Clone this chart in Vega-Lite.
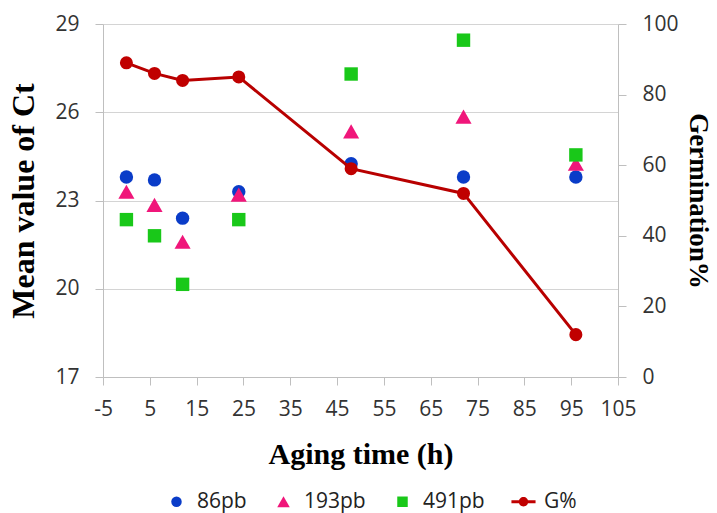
{
  "$schema": "https://vega.github.io/schema/vega-lite/v6.json",
  "width": 515,
  "height": 353,
  "autosize": "none",
  "padding": {"left": 103, "top": 24, "right": 99, "bottom": 136},
  "background": "white",
  "config": {
    "view": {"stroke": null},
    "axis": {
      "labelFont": "Open Sans",
      "labelFontSize": 21,
      "labelColor": "#333333",
      "tickColor": "#bfbfbf",
      "domainColor": "#bfbfbf",
      "tickSize": 8,
      "labelFlush": false,
      "labelOverlap": false,
      "titleFont": "Liberation Serif",
      "titleFontWeight": "bold",
      "titleColor": "#000000"
    }
  },
  "datasets": {
    "ct": [
      {"time": 0, "series": "86pb", "ct": 23.8},
      {"time": 6, "series": "86pb", "ct": 23.7},
      {"time": 12, "series": "86pb", "ct": 22.4},
      {"time": 24, "series": "86pb", "ct": 23.3},
      {"time": 48, "series": "86pb", "ct": 24.25},
      {"time": 72, "series": "86pb", "ct": 23.8},
      {"time": 96, "series": "86pb", "ct": 23.8},
      {"time": 0, "series": "193pb", "ct": 23.3},
      {"time": 6, "series": "193pb", "ct": 22.85},
      {"time": 12, "series": "193pb", "ct": 21.6},
      {"time": 24, "series": "193pb", "ct": 23.2},
      {"time": 48, "series": "193pb", "ct": 25.35},
      {"time": 72, "series": "193pb", "ct": 25.85},
      {"time": 96, "series": "193pb", "ct": 24.25},
      {"time": 0, "series": "491pb", "ct": 22.35},
      {"time": 6, "series": "491pb", "ct": 21.8},
      {"time": 12, "series": "491pb", "ct": 20.15},
      {"time": 24, "series": "491pb", "ct": 22.35},
      {"time": 48, "series": "491pb", "ct": 27.3},
      {"time": 72, "series": "491pb", "ct": 28.45},
      {"time": 96, "series": "491pb", "ct": 24.55}
    ],
    "germ": [
      {"time": 0, "g": 89},
      {"time": 6, "g": 86},
      {"time": 12, "g": 84},
      {"time": 24, "g": 85},
      {"time": 48, "g": 59},
      {"time": 72, "g": 52},
      {"time": 96, "g": 12}
    ]
  },
  "layer": [
    {
      "data": {"name": "ct"},
      "mark": {"type": "point", "filled": true, "opacity": 1, "size": 180, "strokeWidth": 0},
      "encoding": {
        "x": {
          "field": "time", "type": "quantitative",
          "scale": {"domain": [-5, 105], "nice": false, "zero": false},
          "axis": {
            "values": [-5, 5, 15, 25, 35, 45, 55, 65, 75, 85, 95, 105],
            "labelExpr": "datum.value < 0 ? '-' + abs(datum.value) : datum.label",
            "grid": false, "labelPadding": 13,
            "title": "Aging time (h)", "titleFontSize": 30, "titlePadding": 20
          }
        },
        "y": {
          "field": "ct", "type": "quantitative",
          "scale": {"domain": [17, 29], "nice": false, "zero": false},
          "axis": {
            "values": [17, 20, 23, 26, 29],
            "grid": true, "gridColor": "#d4d4d4", "gridWidth": 1,
            "labelPadding": 16,
            "title": "Mean value of Ct", "titleFontSize": 32, "titlePadding": 14
          }
        },
        "color": {
          "field": "series", "type": "nominal",
          "scale": {"domain": ["86pb", "193pb", "491pb", "G%"], "range": ["#0a3cc8", "#f0167a", "#19c819", "#c00000"]},
          "legend": {
            "orient": "none", "legendX": 63, "legendY": 467, "direction": "horizontal",
            "title": null, "symbolSize": 110, "labelFont": "Open Sans", "labelFontSize": 21,
            "labelColor": "#222222", "labelOffset": 10, "columnPadding": 26, "symbolStrokeWidth": 0
          }
        },
        "shape": {
          "field": "series", "type": "nominal",
          "scale": {"domain": ["86pb", "193pb", "491pb", "G%"], "range": ["circle", "M0,-1.05L1.2,1.05L-1.2,1.05Z", "square", "M-2.3,-0.3L2.3,-0.3L2.3,0.3L-2.3,0.3Z M0.9,0 A0.9,0.9 0 1,1 -0.9,0 A0.9,0.9 0 1,1 0.9,0 Z"]},
          "legend": {
            "orient": "none", "legendX": 63, "legendY": 467, "direction": "horizontal",
            "title": null, "symbolSize": 110, "labelFont": "Open Sans", "labelFontSize": 21,
            "labelColor": "#222222", "labelOffset": 10, "columnPadding": 26, "symbolStrokeWidth": 0
          }
        }
      }
    },
    {
      "data": {"name": "germ"},
      "encoding": {
        "x": {
          "field": "time", "type": "quantitative",
          "scale": {"domain": [-5, 105], "nice": false, "zero": false},
          "axis": {
            "values": [-5, 5, 15, 25, 35, 45, 55, 65, 75, 85, 95, 105],
            "labelExpr": "datum.value < 0 ? '-' + abs(datum.value) : datum.label",
            "grid": false, "labelPadding": 13,
            "title": "Aging time (h)", "titleFontSize": 30, "titlePadding": 20
          }
        },
        "y": {
          "field": "g", "type": "quantitative",
          "scale": {"domain": [0, 100], "nice": false},
          "axis": {
            "orient": "right",
            "values": [0, 20, 40, 60, 80, 100],
            "grid": false, "labelPadding": 16,
            "title": "Germination%", "titleFontSize": 27, "titleAngle": 90, "titlePadding": 5
          }
        }
      },
      "layer": [
        {"mark": {"type": "line", "color": "#b80000", "strokeWidth": 3}},
        {"mark": {"type": "circle", "color": "#c00000", "size": 170, "opacity": 1}}
      ]
    }
  ],
  "resolve": {"scale": {"y": "independent"}}
}
